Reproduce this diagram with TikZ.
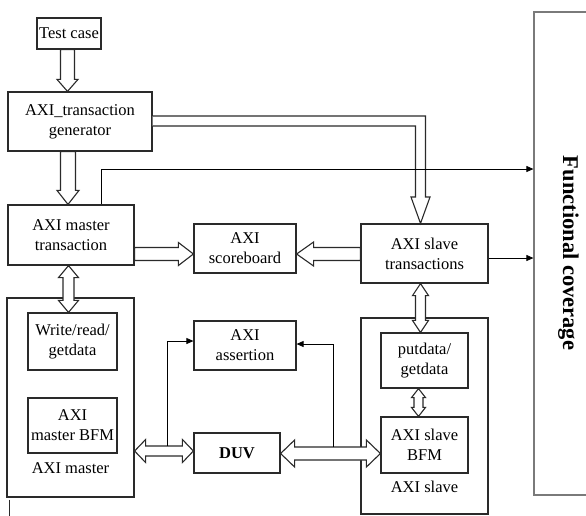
\documentclass[tikz,border=0pt]{standalone}
\usepackage{fontspec}
\setmainfont{Liberation Serif}
\usetikzlibrary{calc,arrows.meta}
\definecolor{lc}{HTML}{2A2A2A}
\definecolor{fcc}{HTML}{7A7A7A}
\tikzset{
  box/.style={draw=lc, line width=1.2pt, inner sep=0pt, align=center,
    font=\fontsize{16.5}{20}\selectfont},
  hollow/.style={draw=lc, line width=1.1pt, fill=white, line join=miter},
  thinarrow/.style={draw=black, line width=0.8pt, -{Triangle[length=7pt,width=6pt]}},
  lbl/.style={font=\fontsize{16.5}{20}\selectfont, inner sep=0pt},
}
\newcommand\arrowframe[2]{%
  \path let \p1=(#1), \p2=(#2) in \pgfextra{%
    \pgfmathsetmacro\harlen{veclen(\x2-\x1,\y2-\y1)}%
    \pgfmathsetmacro\harang{atan2(\y2-\y1,\x2-\x1)}%
    \xdef\harlen{\harlen}\xdef\harang{\harang}%
    \xdef\harx{\x1}\xdef\hary{\y1}};}
% single-headed hollow arrow: start, end, shaft half width, head half width, head length
\newcommand\hsingle[5]{\arrowframe{#1}{#2}%
  \draw[hollow, shift={(\harx,\hary)}, rotate=\harang]
    (0,-#3) -- (\harlen-#5,-#3) -- (\harlen-#5,-#4) -- (\harlen,0)
    -- (\harlen-#5,#4) -- (\harlen-#5,#3) -- (0,#3) -- cycle;}
% double-headed hollow arrow
\newcommand\hdouble[5]{\arrowframe{#1}{#2}%
  \draw[hollow, shift={(\harx,\hary)}, rotate=\harang]
    (0,0) -- (#5,#4) -- (#5,#3) -- (\harlen-#5,#3) -- (\harlen-#5,#4) -- (\harlen,0)
    -- (\harlen-#5,-#4) -- (\harlen-#5,-#3) -- (#5,-#3) -- (#5,-#4) -- cycle;}
\begin{document}
\begin{tikzpicture}[x=1pt,y=1pt]
\useasboundingbox (0,0) rectangle (586,-515);
\clip (0,0) rectangle (586,-515);
\fill[white] (0,0) rectangle (586,-515);

% boxes
\node[box, minimum width=64pt, minimum height=31pt] (tc) at (69,-33.5) {Test case};
\node[box, minimum width=144pt, minimum height=59pt] (gen) at (80,-121.5) {AXI\_transaction\\generator};
\node[box, minimum width=126pt, minimum height=60pt] (mt) at (71,-235) {AXI master\\transaction};
\node[box, minimum width=102pt, minimum height=49pt] (sb) at (245,-248.5) {AXI\\scoreboard};
\node[box, minimum width=127pt, minimum height=59pt] (st) at (424.5,-253.5) {AXI slave\\transactions};
\node[draw=fcc, line width=1.2pt, minimum width=90pt, minimum height=483pt, inner sep=0pt] (fc) at (579,-253.5) {};
\node[font=\fontsize{22.5}{22}\bfseries\selectfont, rotate=-90, anchor=base, inner sep=0pt] (fct) at (563,-253) {Functional coverage};

\node[box, minimum width=127pt, minimum height=199pt] (mbox) at (70.5,-397.5) {};
\node[box, minimum width=89pt, minimum height=57pt] (wr) at (72.5,-341.5) {Write/read/\\getdata};
\node[box, minimum width=89pt, minimum height=55pt] (mbfm) at (72.5,-425.5) {AXI\\master BFM};
\node[lbl] (mlab) at (70.5,-468) {AXI master};

\node[box, minimum width=102pt, minimum height=49pt] (as) at (245,-345.5) {AXI\\assertion};
\node[box, minimum width=86pt, minimum height=40pt, font=\fontsize{16.5}{20}\bfseries\selectfont] (duv) at (237,-453) {DUV};

\node[box, minimum width=127pt, minimum height=196pt] (sbox) at (424.5,-416) {};
\node[box, minimum width=87pt, minimum height=55pt] (pg) at (424.5,-360.5) {putdata/\\getdata};
\node[box, minimum width=87pt, minimum height=56pt] (sbfm) at (424.5,-445) {AXI slave\\BFM};
\node[lbl] (slab) at (424.5,-487) {AXI slave};

% hollow arrows
\coordinate (a1s) at ($(tc.south)+(-1.5,0)$);
\coordinate (a1e) at (a1s |- gen.north);
\hsingle{a1s}{a1e}{7}{10.5}{12}
\coordinate (a2s) at ($(gen.south)+(-12,0)$);
\coordinate (a2e) at (a2s |- mt.north);
\hsingle{a2s}{a2e}{7.5}{11}{14}
\coordinate (a3s) at ($(mt.south)+(-2.5,0)$);
\coordinate (a3e) at (a3s |- wr.north);
\hdouble{a3s}{a3e}{5.5}{10}{12}
\coordinate (a4s) at (mt.east |- 0,-254);
\coordinate (a4e) at (sb.west |- 0,-254);
\hsingle{a4s}{a4e}{6.5}{11.5}{15}
\coordinate (a5s) at (st.west |- 0,-254);
\coordinate (a5e) at (sb.east |- 0,-254);
\hsingle{a5s}{a5e}{6.5}{12}{17}
\coordinate (a6s) at ($(st.south)+(-4,0)$);
\coordinate (a6e) at (a6s |- pg.north);
\hdouble{a6s}{a6e}{5}{8}{12}
\coordinate (a7s) at ($(pg.south)+(-6,0)$);
\coordinate (a7e) at (a7s |- sbfm.north);
\hdouble{a7s}{a7e}{4.5}{7}{9}
\coordinate (a8s) at (mbox.east |- 0,-451);
\coordinate (a8e) at (duv.west |- 0,-451);
\hdouble{a8s}{a8e}{5}{11.5}{11}
\coordinate (a9s) at (duv.east |- 0,-453.5);
\coordinate (a9e) at (sbfm.west |- 0,-453.5);
\hdouble{a9s}{a9e}{6.5}{13.5}{14}

% bent hollow arrow generator -> slave transactions
\coordinate (bt) at ($(st.north)+(-4,0)$);
\draw[hollow] (gen.east |- 0,-116) -- (425.5,-116) -- (425.5,-197) -- (430,-197)
  -- (bt) -- (411,-197) -- (415.5,-197) -- (415.5,-126) -- (gen.east |- 0,-126);

% thin arrows
\draw[thinarrow] (mt.north -| 101,0) |- (fc.west |- 0,-169);
\draw[thinarrow] (st.east |- 0,-258) -- (fc.west |- 0,-258);
\coordinate (j1) at (167,-446);
\draw[thinarrow] (j1) |- (as.west |- 0,-341);
\coordinate (j2) at (333,-447);
\draw[thinarrow] (j2) |- (as.east |- 0,-344);

% short mark below master box
\draw[lc, line width=1.8pt] ($(mbox.south west)+(3,-2)$) -- ++(0,-18);
\end{tikzpicture}
\end{document}
